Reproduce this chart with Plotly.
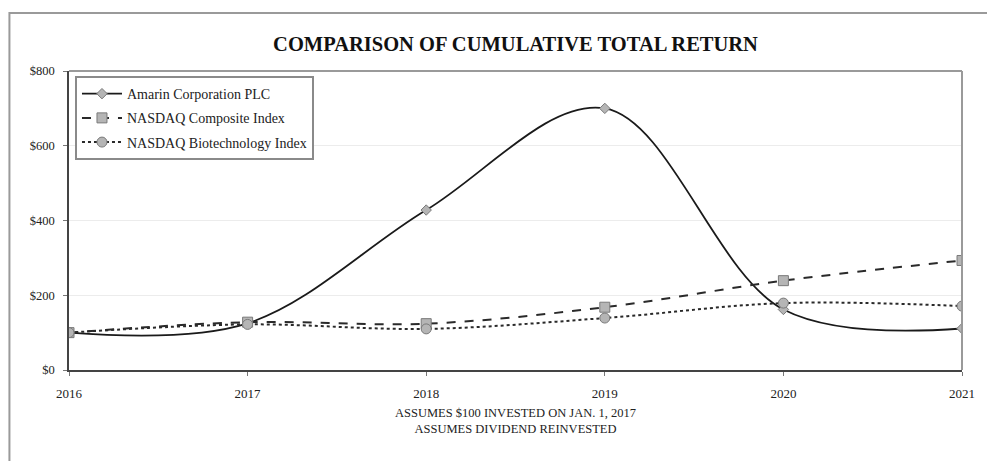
import plotly.graph_objects as go

years = [2016, 2017, 2018, 2019, 2020, 2021]
amarin = [100, 125, 428, 700, 162, 111]
nasdaq_comp = [100, 128, 124, 168, 239, 293]
nasdaq_bio = [100, 122, 110, 139, 179, 171]
y_ticks = [0, 200, 400, 600, 800]
y_tick_labels = ["$0", "$200", "$400", "$600", "$800"]

FONT = "Liberation Serif, Times New Roman, serif"
MFILL = "#b5b5b5"
MLINE = "#7a7a7a"

fig = go.Figure()
fig.add_trace(go.Scatter(
    x=years, y=amarin, name="Amarin Corporation PLC", mode="lines+markers",
    legendgroup="a",
    line=dict(color="#1a1a1a", width=1.8, shape="spline", smoothing=1.0),
    marker=dict(symbol="diamond", size=8, color=MFILL, line=dict(color=MLINE, width=1)),
))
fig.add_trace(go.Scatter(
    x=years, y=nasdaq_comp, name="NASDAQ Composite Index", mode="lines+markers",
    legendgroup="b",
    line=dict(color="#2a2a2a", width=2, dash="dash", shape="spline", smoothing=1.0),
    marker=dict(symbol="square", size=10, color=MFILL, line=dict(color=MLINE, width=1)),
))
fig.add_trace(go.Scatter(
    x=years, y=nasdaq_bio, name="NASDAQ Biotechnology Index", mode="lines+markers",
    legendgroup="c",
    line=dict(color="#2a2a2a", width=2, dash="dot", shape="spline", smoothing=1.0),
    marker=dict(symbol="circle", size=10, color=MFILL, line=dict(color=MLINE, width=1)),
))

fig.add_shape(type="rect", xref="paper", yref="paper",
              x0=-0.0667, x1=1.03, y0=-0.34, y1=1.194,
              line=dict(color="#9a9a9a", width=2), layer="below")

fig.update_layout(
    width=987, height=461,
    margin=dict(l=69, r=19, t=71, b=91),
    paper_bgcolor="white", plot_bgcolor="white",
    font=dict(family=FONT, size=13, color="#222"),
    title=dict(text="<b>COMPARISON OF CUMULATIVE TOTAL RETURN</b>",
               x=0.5, xanchor="center", xref="paper", y=0.905, yanchor="middle",
               font=dict(family=FONT, size=20.5, color="#111")),
    showlegend=True,
    legend=dict(x=0.0067, y=0.983, xanchor="left", yanchor="top",
                bgcolor="white", bordercolor="#8a8a8a", borderwidth=2,
                font=dict(family=FONT, size=14, color="#222"),
                tracegroupgap=3, itemwidth=40),
    xaxis=dict(range=[2016, 2021], tickvals=years, ticktext=[str(y) for y in years],
               showgrid=False, showline=True, linecolor="#444", linewidth=1.5,
               ticks="outside", ticklen=4, tickcolor="#777", mirror=False,
               ticklabelstandoff=7,
               tickfont=dict(family=FONT, size=13, color="#222")),
    yaxis=dict(range=[0, 800], tickvals=y_ticks, ticktext=y_tick_labels,
               showgrid=True, gridcolor="#ececec", gridwidth=1,
               showline=True, linecolor="#444", linewidth=1.5,
               ticks="outside", ticklen=4, tickcolor="#777", zeroline=False,
               ticklabelstandoff=6,
               tickfont=dict(family=FONT, size=12.5, color="#222")),
)

# top and right plot-area border (gray)
fig.add_shape(type="line", xref="paper", yref="paper", x0=0, x1=1, y0=1, y1=1,
              line=dict(color="#9a9a9a", width=2))
fig.add_shape(type="line", xref="paper", yref="paper", x0=1, x1=1, y0=0, y1=1,
              line=dict(color="#9a9a9a", width=2))

fig.add_annotation(text="ASSUMES $100 INVESTED ON JAN. 1, 2017<br>ASSUMES DIVIDEND REINVESTED",
                   xref="paper", yref="paper", x=0.5, y=-0.115, xanchor="center", yanchor="top",
                   showarrow=False, font=dict(family=FONT, size=12.5, color="#222"))

fig.write_html("out.html")
